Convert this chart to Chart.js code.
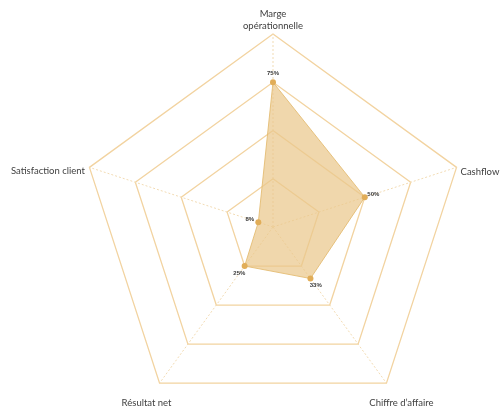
<!DOCTYPE html>
<html>
<head>
<meta charset="utf-8">
<script src="https://cdn.jsdelivr.net/npm/chart.js@4.4.1/dist/chart.umd.min.js"></script>
<style>
  html, body { margin: 0; padding: 0; background: #ffffff; overflow: hidden; }
  #wrap { width: 500px; height: 407px; position: relative; overflow: hidden; }
  canvas { display: block; }
</style>
</head>
<body>
<div id="wrap"><canvas id="c" width="500" height="430"></canvas></div>
<script>
const categories = [["Marge", "opérationnelle"], "Cashflow", "Chiffre d’affaire", "Résultat net", "Satisfaction client"];
const values = [75, 50, 33, 25, 8];
const valueLabels = ["75%", "50%", "33%", "25%", "8%"];
const scaleMax = 100;
const scaleStep = 25;

// placement of each axis title relative to its outer vertex: [dx, dy, align]
const titlePlacement = [
  [0, -8, 'center'],
  [4, 5, 'left'],
  [15, 20, 'center'],
  [-13, 20, 'center'],
  [-4.5, 4, 'right']
];

const axisTitlePlugin = {
  id: 'axisTitles',
  afterDraw(chart) {
    const ctx = chart.ctx;
    const scale = chart.scales.r;
    ctx.save();
    ctx.font = '9.5px Lato, "Open Sans", sans-serif';
    ctx.fillStyle = '#404040';
    ctx.textBaseline = 'middle';
    chart.data.labels.forEach((lab, i) => {
      const p = scale.getPointPosition(i, scale.drawingArea);
      const [dx, dy, align] = titlePlacement[i];
      ctx.textAlign = align;
      const lines = Array.isArray(lab) ? lab : [lab];
      const lh = 12;
      lines.forEach((ln, k) => {
        const y = p.y + dy - (lines.length - 1 - k) * lh;
        ctx.fillText(ln, p.x + dx, y);
      });
    });
    ctx.restore();
  }
};

const valueLabelPlugin = {
  id: 'valueLabels',
  afterDatasetsDraw(chart) {
    const ctx = chart.ctx;
    const scale = chart.scales.r;
    const meta = chart.getDatasetMeta(0);
    ctx.save();
    ctx.font = 'bold 6px "Liberation Sans", Arial, sans-serif';
    ctx.fillStyle = '#3a3a3a';
    ctx.textAlign = 'center';
    ctx.textBaseline = 'middle';
    meta.data.forEach((pt, i) => {
      const dx = pt.x - scale.xCenter;
      const dy = pt.y - scale.yCenter;
      const d = Math.sqrt(dx * dx + dy * dy) || 1;
      const off = 9;
      ctx.fillText(valueLabels[i], pt.x + dx / d * off, pt.y + dy / d * off);
    });
    ctx.restore();
  }
};

new Chart(document.getElementById('c'), {
  type: 'radar',
  data: {
    labels: categories,
    datasets: [{
      data: values,
      backgroundColor: 'rgba(234, 200, 140, 0.72)',
      borderColor: 'rgba(228, 188, 115, 0.9)',
      borderWidth: 1,
      pointRadius: 3,
      pointBackgroundColor: '#e1ad58',
      pointBorderColor: '#e1ad58',
      pointBorderWidth: 0
    }]
  },
  options: {
    responsive: false,
    animation: false,
    layout: { padding: { top: 34, bottom: 10, left: 80, right: 34 } },
    plugins: { legend: { display: false }, tooltip: { enabled: false } },
    scales: {
      r: {
        min: 0,
        max: scaleMax,
        ticks: { display: false, stepSize: scaleStep },
        grid: { circular: false, color: '#f2d3a0', lineWidth: 1.3 },
        angleLines: { color: '#f2dbb3', lineWidth: 1, borderDash: [2, 2] },
        pointLabels: { display: false }
      }
    }
  },
  plugins: [valueLabelPlugin, axisTitlePlugin]
});
</script>
</body>
</html>
